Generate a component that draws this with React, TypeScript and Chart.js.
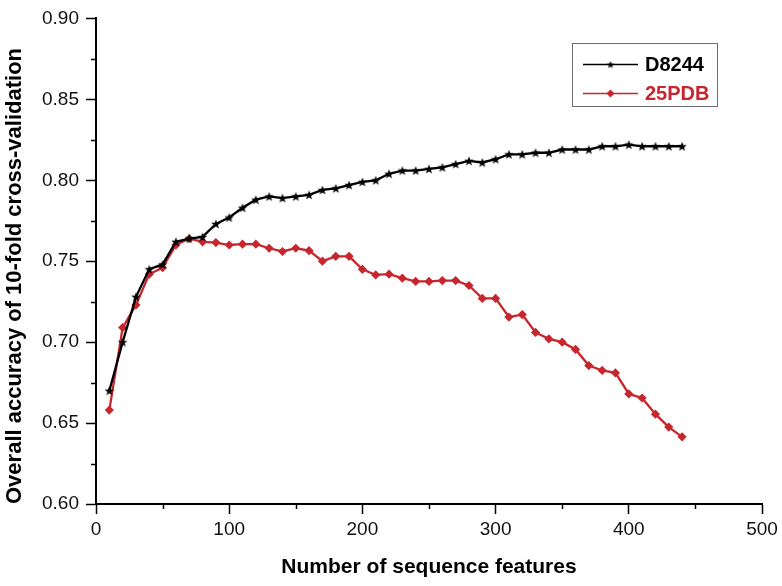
import React, { useEffect, useRef } from "react";
import { Chart, registerables } from "chart.js";

Chart.register(...registerables);

const features = [10, 20, 30, 40, 50, 60, 70, 80, 90, 100, 110, 120, 130, 140, 150, 160, 170, 180, 190, 200, 210, 220, 230, 240, 250, 260, 270, 280, 290, 300, 310, 320, 330, 340, 350, 360, 370, 380, 390, 400, 410, 420, 430, 440];

const d8244 = [0.670, 0.700, 0.728, 0.745, 0.748, 0.762, 0.764, 0.765, 0.773, 0.777, 0.783, 0.788, 0.790, 0.789, 0.790, 0.791, 0.794, 0.795, 0.797, 0.799, 0.800, 0.804, 0.806, 0.806, 0.807, 0.808, 0.810, 0.812, 0.811, 0.813, 0.816, 0.816, 0.817, 0.817, 0.819, 0.819, 0.819, 0.821, 0.821, 0.822, 0.821, 0.821, 0.821, 0.821];

const pdb25 = [0.658, 0.709, 0.723, 0.742, 0.746, 0.760, 0.764, 0.762, 0.7615, 0.760, 0.7605, 0.7605, 0.758, 0.756, 0.758, 0.7565, 0.750, 0.753, 0.753, 0.745, 0.7415, 0.742, 0.7395, 0.7375, 0.7375, 0.738, 0.738, 0.735, 0.727, 0.727, 0.7155, 0.717, 0.706, 0.702, 0.700, 0.6955, 0.6855, 0.6825, 0.681, 0.668, 0.6655, 0.6555, 0.6475, 0.6415];

const seriesNames = ["D8244", "25PDB"];
const xMinorTicks = [50, 150, 250, 350, 450];
const yMinorTicks = [0.625, 0.675, 0.725, 0.775, 0.825, 0.875];

const BLACK = "#000000";
const RED = "#c8262d";

function makeStar(outer: number, inner: number, color: string) {
  const size = Math.ceil(outer * 2 + 2);
  const c = document.createElement("canvas");
  c.width = size;
  c.height = size;
  const ctx = c.getContext("2d")!;
  const cx = size / 2;
  const cy = size / 2 + 0.4;
  ctx.beginPath();
  for (let i = 0; i < 10; i++) {
    const r = i % 2 === 0 ? outer : inner;
    const a = -Math.PI / 2 + (i * Math.PI) / 5;
    const px = cx + r * Math.cos(a);
    const py = cy + r * Math.sin(a);
    if (i === 0) ctx.moveTo(px, py);
    else ctx.lineTo(px, py);
  }
  ctx.closePath();
  ctx.fillStyle = color;
  ctx.fill();
  return c;
}

const minorTicksPlugin = {
  id: "minorTicks",
  afterDraw(chart: any) {
    const { ctx, scales } = chart;
    const xs = scales.x;
    const ys = scales.y;
    ctx.save();
    ctx.strokeStyle = "#000";
    ctx.lineWidth = 1.5;
    ctx.beginPath();
    xMinorTicks.forEach((v) => {
      const px = Math.round(xs.getPixelForValue(v)) + 0.5;
      ctx.moveTo(px, ys.bottom);
      ctx.lineTo(px, ys.bottom + 5);
    });
    yMinorTicks.forEach((v) => {
      const py = Math.round(ys.getPixelForValue(v)) + 0.5;
      ctx.moveTo(xs.left, py);
      ctx.lineTo(xs.left - 5, py);
    });
    ctx.stroke();
    ctx.restore();
  },
};

const boxLegendPlugin = {
  id: "boxLegend",
  afterDraw(chart: any) {
    const ctx = chart.ctx;
    const x0 = 572;
    const y0 = 43;
    const w = 145;
    const h = 63;
    ctx.save();
    ctx.fillStyle = "#ffffff";
    ctx.fillRect(x0, y0, w, h);
    ctx.strokeStyle = "#6e6e6e";
    ctx.lineWidth = 1;
    ctx.strokeRect(x0 + 0.5, y0 + 0.5, w, h);
    const rows = [64, 93];
    chart.data.datasets.forEach((ds: any, i: number) => {
      const y = rows[i];
      ctx.strokeStyle = ds.borderColor;
      ctx.lineWidth = 1.5;
      ctx.beginPath();
      ctx.moveTo(583, y + 0.5);
      ctx.lineTo(638, y + 0.5);
      ctx.stroke();
      const mx = 610.5;
      if (i === 0) {
        const s = makeStar(4, 1.7, ds.borderColor);
        ctx.drawImage(s, mx - s.width / 2, y + 0.5 - s.height / 2);
      } else {
        ctx.fillStyle = ds.borderColor;
        ctx.beginPath();
        ctx.moveTo(mx, y + 0.5 - 4);
        ctx.lineTo(mx + 4, y + 0.5);
        ctx.lineTo(mx, y + 0.5 + 4);
        ctx.lineTo(mx - 4, y + 0.5);
        ctx.closePath();
        ctx.fill();
      }
      ctx.fillStyle = ds.borderColor;
      ctx.font = "bold 20px 'Liberation Sans', Arial, sans-serif";
      ctx.textAlign = "left";
      ctx.textBaseline = "middle";
      ctx.fillText(ds.label, 645, y + 1);
    });
    ctx.restore();
  },
};

export default function App() {
  const canvasRef = useRef<HTMLCanvasElement | null>(null);

  useEffect(() => {
    document.body.style.margin = "0";
    const canvas = canvasRef.current;
    if (!canvas) return;
    const star = makeStar(5, 2.1, BLACK);
    const chart = new Chart(canvas, {
      type: "line",
      data: {
        datasets: [
          {
            label: seriesNames[0],
            data: features.map((f, i) => ({ x: f, y: d8244[i] })),
            borderColor: BLACK,
            backgroundColor: BLACK,
            borderWidth: 2.3,
            pointStyle: star as any,
            pointRadius: 5,
            tension: 0,
          },
          {
            label: seriesNames[1],
            data: features.map((f, i) => ({ x: f, y: pdb25[i] })),
            borderColor: RED,
            backgroundColor: RED,
            borderWidth: 2.3,
            pointStyle: "rectRot",
            pointRadius: 4.6,
            pointBorderWidth: 0,
            tension: 0,
          },
        ],
      },
      options: {
        animation: false,
        responsive: false,
        layout: { padding: { top: 16, right: 20, left: 0, bottom: 0 } },
        plugins: {
          legend: { display: false },
          tooltip: { enabled: false },
        },
        scales: {
          x: {
            type: "linear",
            min: 0,
            max: 500,
            ticks: {
              stepSize: 100,
              color: "#111",
              font: { family: "'Liberation Sans', Arial, sans-serif", size: 19 },
              padding: 4,
              maxRotation: 0,
            },
            grid: {
              display: true,
              drawOnChartArea: false,
              drawTicks: true,
              tickLength: 10,
              tickColor: "#000",
              tickWidth: 1.5,
            },
            border: { display: true, color: "#000", width: 2 },
            title: {
              display: true,
              text: "Number of sequence features",
              color: "#000",
              font: { family: "'Liberation Sans', Arial, sans-serif", size: 21, weight: "bold" },
              padding: { top: 0, bottom: 6 },
            },
            afterFit: (scale: any) => {
              scale.height = 82;
            },
          },
          y: {
            type: "linear",
            min: 0.6,
            max: 0.9,
            ticks: {
              stepSize: 0.05,
              color: "#111",
              font: { family: "'Liberation Sans', Arial, sans-serif", size: 19 },
              padding: 7,
              callback: (v: any) => Number(v).toFixed(2),
            },
            grid: {
              display: true,
              drawOnChartArea: false,
              drawTicks: true,
              tickLength: 10,
              tickColor: "#000",
              tickWidth: 1.5,
            },
            border: { display: true, color: "#000", width: 2 },
            title: {
              display: true,
              text: "Overall accuracy of 10-fold cross-validation",
              color: "#000",
              align: "start",
              font: { family: "'Liberation Sans', Arial, sans-serif", size: 22, weight: "bold" },
              padding: { top: 2, bottom: 0 },
            },
            afterFit: (scale: any) => {
              scale.width = 96;
            },
          },
        },
      },
      plugins: [minorTicksPlugin, boxLegendPlugin],
    });
    return () => {
      chart.destroy();
    };
  }, []);

  return (
    <div style={{ width: 782, height: 586 }}>
      <canvas ref={canvasRef} width={782} height={586} style={{ display: "block" }} />
    </div>
  );
}
